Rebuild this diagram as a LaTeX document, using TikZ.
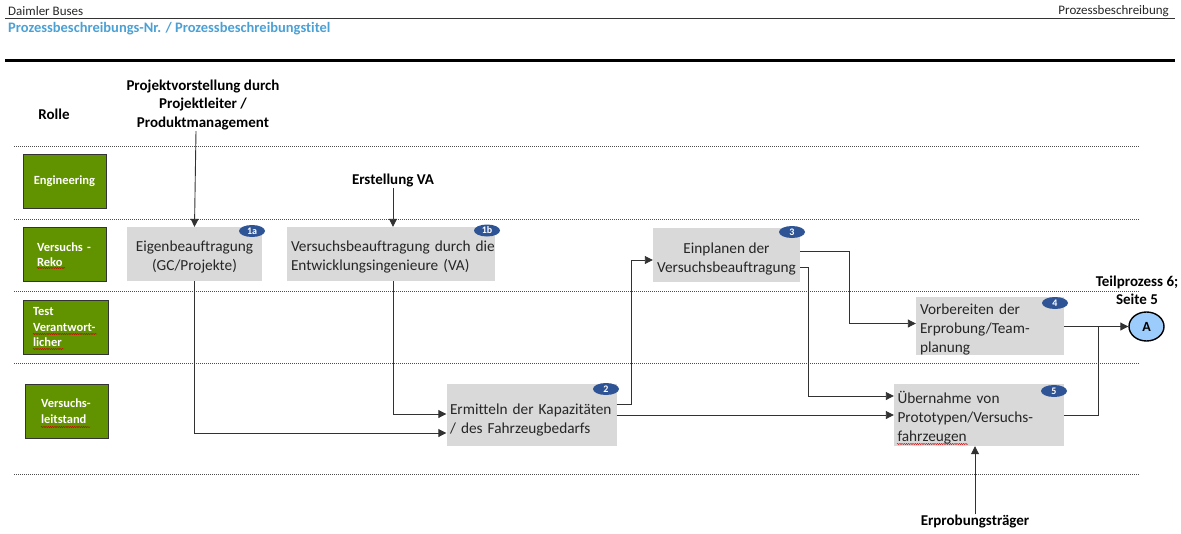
\documentclass[tikz,border=0pt]{standalone}
\usepackage{fontspec}
\setmainfont{Carlito}[Ligatures=NoCommon]
\usetikzlibrary{arrows.meta,decorations.pathmorphing,shapes.geometric}

\definecolor{rolegreen}{RGB}{97,146,0}
\definecolor{stepgray}{RGB}{217,217,217}
\definecolor{badgeblue}{RGB}{46,84,150}
\definecolor{titleblue}{RGB}{75,160,212}
\definecolor{connblue}{RGB}{155,204,252}
\definecolor{linegray}{RGB}{50,50,50}

% extra room above the first line of a step text
\newcommand{\stepgap}{\rule{0pt}{17.5pt}}

\tikzset{
  role/.style={draw=black!80, line width=0.8pt, fill=rolegreen, text=white,
    font=\fontsize{12.5}{15.5}\selectfont\bfseries, minimum height=54pt,
    inner ysep=0pt},
  stepbox/.style={fill=stepgray, font=\fontsize{15.3}{18.9}\selectfont,
    minimum height=54pt, inner ysep=0pt, text=black!85},
  badge/.style={ellipse, fill=badgeblue, text=white, inner sep=0pt,
    minimum width=26pt, minimum height=12pt,
    font=\fontsize{10}{10}\selectfont\bfseries},
  label/.style={font=\fontsize{15}{18.3}\selectfont\bfseries, align=center,
    inner sep=1pt},
  conn/.style={draw=linegray, line width=0.9pt,
    -{Triangle[length=8pt,width=8pt]}},
  plain/.style={draw=linegray, line width=0.9pt},
  lane/.style={draw=black!70, line width=0.6pt, dash pattern=on 1pt off 1pt},
  spell/.style={draw=red!80!black, line width=0.45pt, decorate,
    decoration={snake, amplitude=0.55pt, segment length=2.2pt}},
}

\begin{document}
\begin{tikzpicture}[x=1pt, y=-1pt]
\useasboundingbox (0,0) rectangle (1181,533);

% page header
\node[anchor=west, inner sep=0pt, font=\fontsize{13}{14}\selectfont, text=black!85]
  (hdl) at (8,11) {Daimler Buses};
\node[anchor=east, inner sep=0pt, font=\fontsize{13}{14}\selectfont, text=black!85]
  (hdr) at (1169,11) {Prozessbeschreibung};
\draw[line width=0.8pt, black!80] (5,18) -- (1175,18);
\node[anchor=west, inner sep=0pt, text=titleblue,
  font=\fontsize{14.5}{16}\selectfont\bfseries]
  (title) at (8,28.5) {Prozessbeschreibungs-Nr. / Prozessbeschreibungstitel};
\draw[line width=3pt] (5,60.5) -- (1175,60.5);

% swimlane separators
\foreach \yy in {146,219,291,363,474}
  \draw[lane] (14,\yy) -- (1139,\yy);

% roles
\node[label] (rolle) at (54,114) {Rolle};
\node[role, minimum width=83pt, align=center] (rEng) at (64.5,181) {Engineering};
\node[role, text width=55pt, inner xsep=14pt, align=left] (rReko) at (64.5,254.5)
  {Versuchs -\\Reko};
\node[role, text width=65pt, inner xsep=10pt, align=left] (rTest) at (65.5,327)
  {Test\\Verantwort-\\licher};
\node[role, text width=51pt, inner xsep=16pt, align=left] (rLeit) at (66.5,411)
  {Versuchs-\\leitstand};

% spell-check marks under role names
\draw[spell] (37,268) -- (65,268);
\draw[spell] (33,334) -- (97,334);
\draw[spell] (33,349) -- (64,349);
\draw[spell] (41,427) -- (90,427);

% process steps
\node[stepbox, minimum width=135pt, align=center] (s1a) at (194.5,254)
  {\stepgap Eigenbeauftragung\\(GC/Projekte)};
\node[stepbox, text width=200pt, inner xsep=4pt, align=left] (s1b) at (391,254)
  {\stepgap\mbox{Versuchsbeauftragung durch die}\\\mbox{Entwicklungsingenieure (VA)}};
\node[stepbox, minimum width=147pt, align=center] (s3) at (726.5,255)
  {\rule{0pt}{19pt}Einplanen der\\Versuchsbeauftragung};
\node[stepbox, text width=140pt, inner xsep=4pt, align=left] (s4) at (990,326)
  {\stepgap Vorbereiten der\\Erprobung/Team-\\planung};
\node[stepbox, minimum height=62pt, text width=163pt, inner xsep=3.5pt, align=left]
  (s2) at (531.5,415)
  {\raisebox{-5pt}[\height][\depth]{\parbox{163pt}{\mbox{Ermitteln der Kapazitäten}\\\mbox{/ des Fahrzeugbedarfs}}}};
\node[stepbox, minimum height=62pt, text width=163pt, inner xsep=3.5pt, align=left]
  (s5) at (979,415) {\stepgap Übernahme von\\\mbox{Prototypen/Versuchs-}\\fahrzeugen};
\draw[spell] (897,444) -- (968,444);

% step numbers
\node[badge] (n1a) at (252,231) {1a};
\node[badge] (n1b) at (487,230.5) {1b};
\node[badge] (n3)  at (792,232) {3};
\node[badge] (n4)  at (1055,303) {4};
\node[badge] (n2)  at (606,389) {2};
\node[badge] (n5)  at (1054,391) {5};

% off-page connector
\node[ellipse, draw=black, line width=1.4pt, fill=connblue, inner sep=0pt,
  minimum width=35pt, minimum height=29pt,
  font=\fontsize{14}{16}\selectfont\bfseries] (cA) at (1146.5,326.5) {A};
\node[label] (tp) at (1137,290) {Teilprozess 6;\\Seite 5};

% inputs
\node[label] (proj) at (203,105) {Projektvorstellung durch\\Projektleiter /\\Produktmanagement};
\node[label] (erst) at (393,180.5) {Erstellung VA};
\node[label] (erp) at (975,522) {Erprobungsträger};

% flow
\draw[conn] (proj.south -| s1a.north) ++(1.5,0) -- (s1a.north);
\draw[conn] ([xshift=2pt]s1b.north |- erst.south) -- ([xshift=2pt]s1b.north);
\draw[conn] (s1a.south) |- ([yshift=-18pt]s2.west);
\draw[conn] ([xshift=2pt]s1b.south) |- ([yshift=1pt]s2.west);
\draw[conn] ([yshift=11pt]s2.east) -- ++(15,0) |- ([yshift=-5pt]s3.west);
\draw[conn] (s2.east) -- (s5.west);
\draw[conn] ([yshift=4pt]s3.east) -- ++(49,0) |- ([yshift=2.5pt]s4.west);
\draw[conn] ([yshift=-12pt]s3.east) -- ++(8,0) |- ([yshift=19pt]s5.west);
\draw[conn] (s4.east |- cA.west) -- (cA.west);
\coordinate (join) at (1098,326.5);
\draw[plain] (s5.east) -| (join);
\draw[conn] (erp.north) -- (erp.north |- s5.south);
\end{tikzpicture}
\end{document}
